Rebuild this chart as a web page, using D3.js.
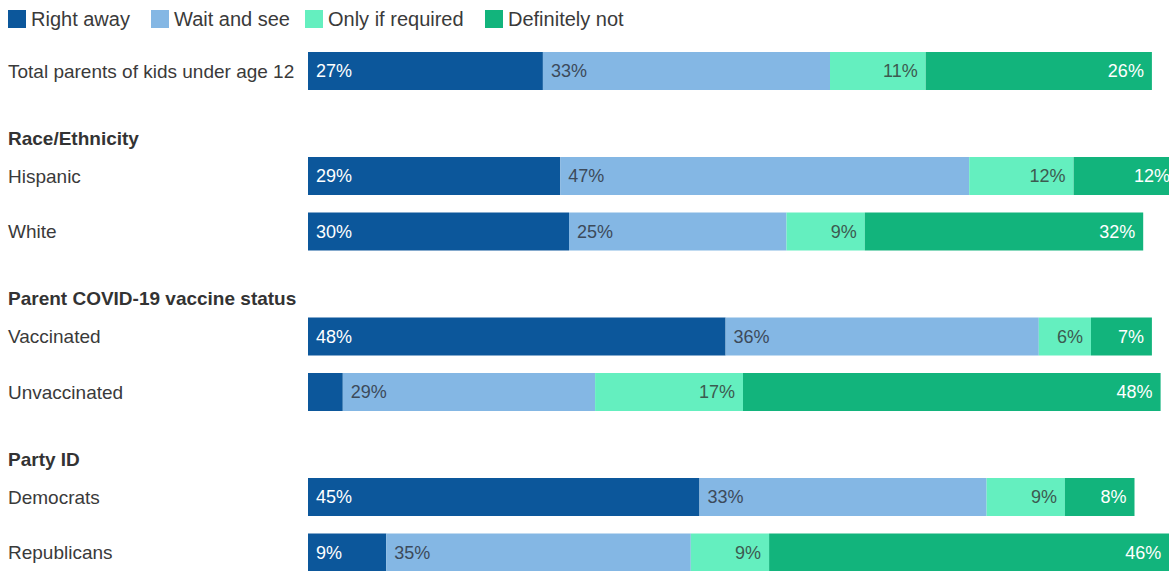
<!DOCTYPE html>
<html>
<head>
<meta charset="utf-8">
<script src="https://cdn.jsdelivr.net/npm/d3@7"></script>
<style>
  html, body { margin: 0; padding: 0; background: #ffffff; }
  svg { display: block; font-family: "Liberation Sans", Arial, sans-serif; }
</style>
</head>
<body>
<svg id="chart" width="1169" height="571"></svg>
<script>
// Response categories (stack order, left to right)
const categories = ["Right away", "Wait and see", "Only if required", "Definitely not"];

const rowLabels = [
  "Total parents of kids under age 12",
  "Hispanic", "White",
  "Vaccinated", "Unvaccinated",
  "Democrats", "Republicans"
];
// Group heading each row belongs to (null = ungrouped total row)
const rowGroups = [null,
  "Race/Ethnicity", "Race/Ethnicity",
  "Parent COVID-19 vaccine status", "Parent COVID-19 vaccine status",
  "Party ID", "Party ID"];

// Percent values per category, one entry per row
const rightAway      = [27, 29, 30, 48, 4, 45, 9];
const waitAndSee     = [33, 47, 25, 36, 29, 33, 35];
const onlyIfRequired = [11, 12, 9, 6, 17, 9, 9];
const definitelyNot  = [26, 12, 32, 7, 48, 8, 46];

const colors = ["#0c579b", "#84b7e4", "#64efbf", "#12b47c"];
const textColors = ["#ffffff", "#3c4a5a", "#3c5a50", "#ffffff"];
// label alignment inside each segment: start-aligned or end-aligned
const labelAlign = ["start", "start", "end", "end"];

const series = [rightAway, waitAndSee, onlyIfRequired, definitelyNot];
const data = rowLabels.map((label, i) => {
  const d = { label, group: rowGroups[i], index: i };
  categories.forEach((c, k) => { d[c] = series[k][i]; });
  return d;
});

const svg = d3.select("#chart");

// Horizontal scale for percentages
const x = d3.scaleLinear().domain([0, 100]).range([308, 1178]);

// Vertical layout: rows and group headers
const barH = 38;
const rowCenters = [];
const headerYs = [];
let y = 71;
data.forEach((d, i) => {
  if (i > 0) {
    if (d.group !== data[i - 1].group) {
      y += 67;
      headerYs.push({ text: d.group, y });
      y += 38;
    } else {
      y += 55.5;
    }
  }
  rowCenters.push(y);
});

const stacked = d3.stack().keys(categories)(data);

// Legend
const legend = svg.append("g").attr("class", "legend");
const legendX = [8, 151, 305, 485];
categories.forEach((c, k) => {
  const g = legend.append("g").attr("transform", `translate(${legendX[k]},10)`);
  g.append("rect").attr("width", 18).attr("height", 18).attr("fill", colors[k]);
  g.append("text").attr("x", 23).attr("y", 9).attr("dy", "0.35em")
    .attr("font-size", 20).attr("fill", "#3a3a3a").text(c);
});

// Group headers
svg.append("g").selectAll("text").data(headerYs).join("text")
  .attr("x", 8).attr("y", d => d.y).attr("dy", "0.35em")
  .attr("font-size", 19).attr("font-weight", "bold").attr("fill", "#333333")
  .text(d => d.text);

// Row labels
svg.append("g").selectAll("text").data(data).join("text")
  .attr("x", 8).attr("y", (d, i) => rowCenters[i]).attr("dy", "0.35em")
  .attr("font-size", 19).attr("fill", "#3a3a3a")
  .text(d => d.label);

// Bars
const layers = svg.append("g").selectAll("g").data(stacked).join("g")
  .attr("fill", (s, k) => colors[k]);

layers.selectAll("rect").data(s => s).join("rect")
  .attr("x", d => x(d[0]))
  .attr("y", d => rowCenters[d.data.index] - barH / 2)
  .attr("width", d => x(d[1]) - x(d[0]))
  .attr("height", barH);

// Value labels inside segments (skipped when the segment is too narrow)
layers.each(function (s, k) {
  d3.select(this).selectAll("text").data(s.filter(d => d[1] - d[0] >= 5)).join("text")
    .attr("x", d => labelAlign[k] === "start" ? x(d[0]) + 8 : x(d[1]) - 8)
    .attr("y", d => rowCenters[d.data.index])
    .attr("dy", "0.35em")
    .attr("text-anchor", labelAlign[k])
    .attr("font-size", 18)
    .attr("fill", textColors[k])
    .text(d => `${d[1] - d[0]}%`);
});
</script>
</body>
</html>
